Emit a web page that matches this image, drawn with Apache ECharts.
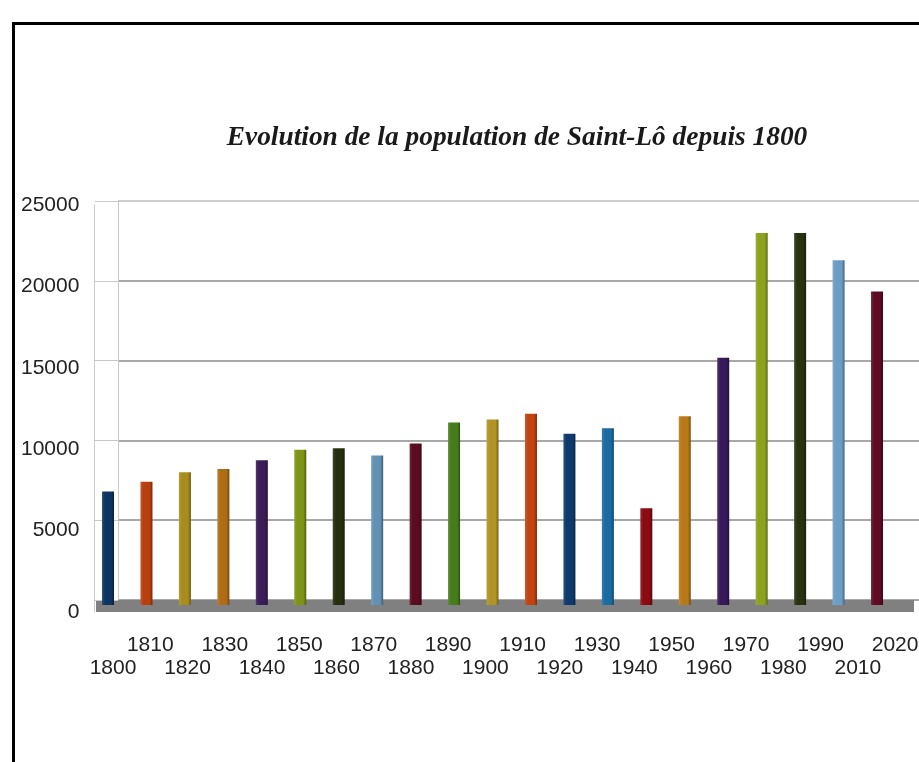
<!DOCTYPE html>
<html><head><meta charset="utf-8">
<script src="https://cdn.jsdelivr.net/npm/echarts@6/dist/echarts.min.js"></script>
<style>html,body{margin:0;padding:0;background:#fff}#c{width:919px;height:762px}</style>
</head><body><div id="c"></div>
<script>
const years = ['1800','1810','1820','1830','1840','1850','1860','1870','1880','1890','1900','1910','1920','1930','1940','1950','1960','1970','1980','1990','2010','2020'];
const population = [7100,7700,8300,8500,9050,9700,9800,9350,10100,11400,11600,11950,10700,11050,6050,11800,15450,23250,23250,21550,19600,null];
const barColors = ['#0d3561','#b8400f','#a98c1e','#b06c14','#3b1c58','#7e9414','#252f0d','#6391b6','#5c0b20','#477c1b','#b09426','#c04310','#0e3b6c','#1b6ba3','#8a0b12','#b87a19','#36195b','#8ca21e','#283210','#6c9dc5','#5e0b23'];
const yMin = 0, yMax = 25000, yStep = 5000;
const titleText = 'Evolution de la population de Saint-Lô depuis 1800';

const font = '"Liberation Sans", Arial, sans-serif';
function shade(hex, f) {
  const n = parseInt(hex.slice(1), 16);
  let r = (n >> 16) & 255, g = (n >> 8) & 255, b = n & 255;
  const m = c => Math.max(0, Math.min(255, Math.round(f < 0 ? c * (1 + f) : c + (255 - c) * f)));
  return 'rgb(' + m(r) + ',' + m(g) + ',' + m(b) + ')';
}
const chart = echarts.init(document.getElementById('c'), null, {renderer: 'canvas'});
const labelStyle = {fontSize: 21, color: '#222', fontFamily: font};
const option = {
  backgroundColor: '#fff',
  animation: false,
  title: {
    text: titleText, left: 512, top: 118, textAlign: 'center',
    textStyle: {fontFamily: '"Liberation Serif", "Times New Roman", serif', fontStyle: 'italic', fontWeight: 'bold', fontSize: 27.4, color: '#1a1a1a', lineHeight: 30}
  },
  graphic: [{
    type: 'rect', z: 100, silent: true,
    shape: {x: 13.5, y: 23.5, width: 2000, height: 2000},
    style: {fill: 'none', stroke: '#000', lineWidth: 3}
  }],
  grid: [
    {left: 118, right: 0, top: 201, bottom: 162, outerBoundsMode: 'none', containLabel: false},
    {left: 94.4, width: 819.3, top: 205, bottom: 150, outerBoundsMode: 'none', containLabel: false},
    {left: 96, width: 818, top: 205, bottom: 156, outerBoundsMode: 'none', containLabel: false},
    {left: 88.8, width: 845.9, top: 205, bottom: 157, outerBoundsMode: 'none', containLabel: false}
  ],
  xAxis: [
    {gridIndex: 0, type: 'category', data: years, show: false},
    {gridIndex: 1, type: 'category', data: years, position: 'bottom', axisLine: {show: false}, axisTick: {show: false}, splitLine: {show: false},
      axisLabel: Object.assign({interval: (i) => i % 2 === 1, margin: 23}, labelStyle)},
    {gridIndex: 1, type: 'category', data: years, position: 'bottom', offset: 0, axisLine: {show: false}, axisTick: {show: false}, splitLine: {show: false},
      axisLabel: Object.assign({interval: (i) => i % 2 === 0, margin: 46}, labelStyle)},
    {gridIndex: 2, type: 'category', data: years, axisLine: {show: true, lineStyle: {color: '#808080', width: 12, cap: 'butt'}}, axisTick: {show: false}, axisLabel: {show: false}, splitLine: {show: false}},
    {gridIndex: 3, type: 'category', data: years, show: false}
  ],
  yAxis: [
    {gridIndex: 0, type: 'value', min: yMin, max: yMax, interval: yStep,
      axisLine: {show: true, lineStyle: {color: '#c8c8c8', width: 1}},
      axisTick: {show: true, length: 23, lineStyle: {color: '#c8c8c8', width: 1}},
      axisLabel: {show: false},
      splitLine: {show: true, lineStyle: {color: ['#a8a8a8', '#a8a8a8', '#a8a8a8', '#a8a8a8', '#a8a8a8', '#cfcfcf'], width: 2}}},
    {gridIndex: 1, type: 'value', min: yMin, max: yMax, interval: yStep,
      axisLine: {show: true, lineStyle: {color: '#cccccc', width: 1}},
      axisTick: {show: false}, splitLine: {show: false},
      axisLabel: Object.assign({margin: 15, formatter: (v) => String(v)}, labelStyle)},
    {gridIndex: 2, type: 'value', min: yMin, max: yMax, show: false, splitLine: {show: false}},
    {gridIndex: 3, type: 'value', min: yMin, max: yMax, show: false, splitLine: {show: false}}
  ],
  series: [{
    type: 'bar', xAxisIndex: 4, yAxisIndex: 3, barWidth: 12,
    data: population.map((v, i) => ({
      value: v,
      itemStyle: {color: barColors[i] ? new echarts.graphic.LinearGradient(0, 0, 1, 0, [
        {offset: 0, color: shade(barColors[i], 0.12)},
        {offset: 0.25, color: barColors[i]},
        {offset: 0.75, color: barColors[i]},
        {offset: 1, color: shade(barColors[i], -0.35)}
      ]) : '#000'}
    }))
  }]
};
chart.setOption(option);
</script>
</body></html>
